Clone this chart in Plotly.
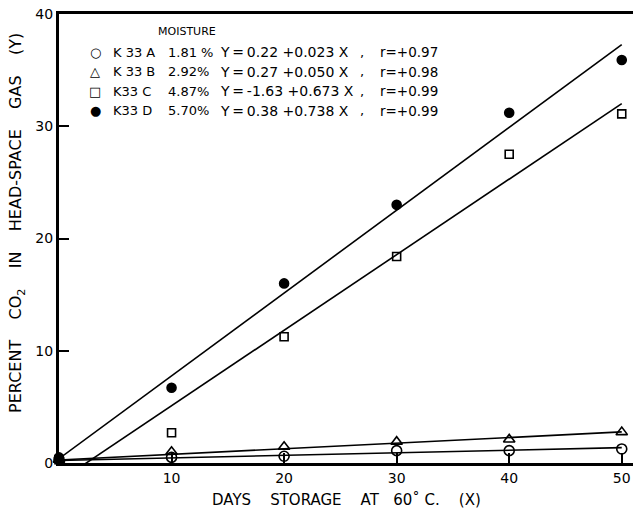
import plotly.graph_objects as go

# ---- data ----
days = [0, 10, 20, 30, 40, 50]
k33a = [0.3, 0.5, 0.6, 1.1, 1.1, 1.25]
k33b = [0.3, 1.0, 1.45, 1.9, 2.1, 2.75]
k33c = [0.3, 2.7, 11.25, 18.4, 27.5, 31.1]
k33d = [0.5, 6.7, 16.0, 23.0, 31.2, 35.9]

samples = ["K 33 A", "K 33 B", "K33 C", "K33 D"]
moisture = ["1.81 %", "2.92%", "4.87%", "5.70%"]
intercepts = [0.22, 0.27, -1.63, 0.38]
slopes = [0.023, 0.050, 0.673, 0.738]
equations = ["Y\u2009=\u20090.22 +0.023 X", "Y\u2009=\u20090.27 +0.050 X",
             "Y\u2009=\u2009-1.63 +0.673 X", "Y\u2009=\u20090.38 +0.738 X"]
r_values = ["r=+0.97", "r=+0.98", "r=+0.99", "r=+0.99"]
legend_glyphs = ["\u25CB", "\u25B3", "\u25A1", "\u25CF"]

x_ticks = [10, 20, 30, 40, 50]
y_ticks = [0, 10, 20, 30, 40]

FONT = "DejaVu Sans"
NB = "\u00A0"
fig = go.Figure()

# regression lines
fit_x = [0, 50]
for a, b in zip(intercepts, slopes):
    fig.add_trace(go.Scatter(x=fit_x, y=[a + b * xx for xx in fit_x], mode="lines",
                             line=dict(color="black", width=1.6), showlegend=False,
                             hoverinfo="skip"))

series = [(k33a, "circle-open", 10), (k33b, "triangle-up-open", 10),
          (k33c, "square-open", 8), (k33d, "circle", 9)]
for vals, sym, sz in series:
    fig.add_trace(go.Scatter(x=days, y=vals, mode="markers",
                             marker=dict(symbol=sym, size=sz, color="black",
                                         line=dict(color="black", width=1.6)),
                             showlegend=False, cliponaxis=False))

# legend text as annotations (data coordinates)
ann = []
ann.append(dict(x=11.4, y=38.4, xref="x", yref="y", text="MOISTURE", showarrow=False,
                font=dict(family=FONT, size=11, color="black")))
row_y = [36.6, 34.85, 33.1, 31.4]
cols = [(3.2, legend_glyphs, "center", 13), (4.6, samples, "left", 13),
        (9.5, moisture, "left", 13), (14.1, equations, "left", 14),
        (26.9, [",", ",", ",", ","], "center", 13), (28.3, r_values, "left", 13.5)]
for cx, texts, anchor, fs in cols:
    for yy, t in zip(row_y, texts):
        ann.append(dict(x=cx, y=yy, xref="x", yref="y", text=t, showarrow=False,
                        xanchor=anchor, font=dict(family=FONT, size=fs, color="black")))

# axis titles
sp4 = NB * 4
ytitle = ("PERCENT" + sp4 + "CO<sub>2</sub>" + sp4 + "IN" + sp4 + "HEAD-SPACE" + sp4 +
          "GAS" + sp4 + "(Y)")
xtitle = ("DAYS" + NB * 4 + "STORAGE" + NB * 4 + "AT" + NB * 3 + "60\u02DA" + NB +
          "C." + NB * 4 + "(X)")
ann.append(dict(x=-0.073, y=0.535, xref="paper", yref="paper", textangle=-90,
                xanchor="center", yanchor="middle",
                text=ytitle, showarrow=False,
                font=dict(family=FONT, size=16, color="black")))
ann.append(dict(x=0.5, y=-0.058, xref="paper", yref="paper", yanchor="top",
                xanchor="center",
                text=xtitle, showarrow=False,
                font=dict(family=FONT, size=15, color="black")))

fig.update_layout(
    width=633, height=515,
    margin=dict(l=59, r=0, t=14, b=52),
    plot_bgcolor="white", paper_bgcolor="white",
    annotations=ann,
    xaxis=dict(range=[0, 51], tickvals=x_ticks, ticks="inside", ticklen=10, tickwidth=1.5,
               tickcolor="black", showgrid=False, zeroline=False,
               showline=True, linecolor="black", linewidth=3, mirror=True,
               tickfont=dict(family=FONT, size=14, color="black")),
    yaxis=dict(range=[0, 40], tickvals=y_ticks, ticks="inside", ticklen=10, tickwidth=1.5,
               tickcolor="black", showgrid=False, zeroline=False,
               showline=True, linecolor="black", linewidth=3,
               tickfont=dict(family=FONT, size=14, color="black")),
)

fig.write_html("out.html", config={"displayModeBar": False},
               post_script="document.body.style.margin='0';document.body.style.overflow='hidden';")
